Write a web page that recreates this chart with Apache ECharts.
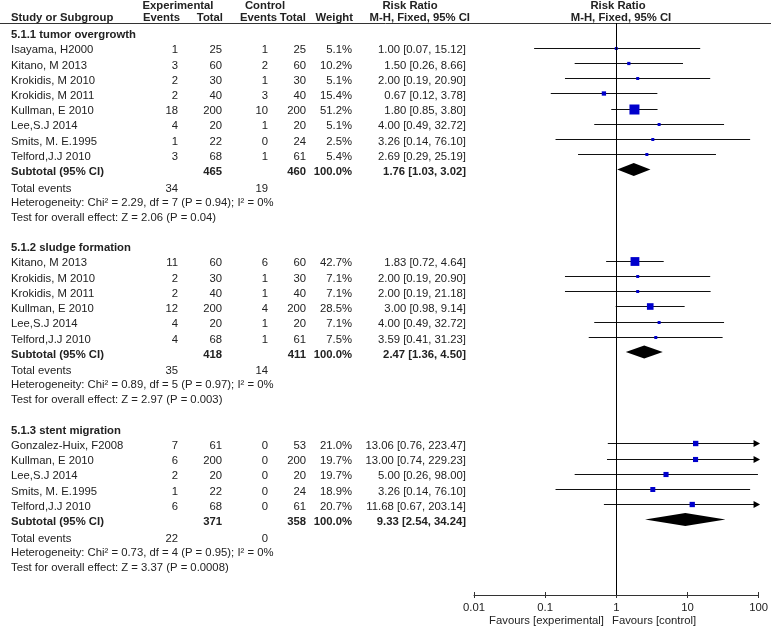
<!DOCTYPE html>
<html><head><meta charset="utf-8">
<script src="https://cdn.jsdelivr.net/npm/echarts@6.0.0/dist/echarts.min.js"></script>
<style>html,body{margin:0;padding:0;background:#fff}#c{width:771px;height:628px}</style>
</head><body><div id="c"></div>
<script>
// ---------------- DATA ----------------
const groupTitles = ['5.1.1 tumor overgrowth', '5.1.2 sludge formation', '5.1.3 stent migration'];

const studies1   = ['Isayama, H2000','Kitano, M 2013','Krokidis, M 2010','Krokidis, M 2011','Kullman, E 2010','Lee,S.J 2014','Smits, M. E.1995','Telford,J.J 2010'];
const expEvents1 = [1, 3, 2, 2, 18, 4, 1, 3];
const expTotal1  = [25, 60, 30, 40, 200, 20, 22, 68];
const ctlEvents1 = [1, 2, 1, 3, 10, 1, 0, 1];
const ctlTotal1  = [25, 60, 30, 40, 200, 20, 24, 61];
const weight1    = [5.1, 10.2, 5.1, 15.4, 51.2, 5.1, 2.5, 5.4];
const rr1        = [1.00, 1.50, 2.00, 0.67, 1.80, 4.00, 3.26, 2.69];
const lo1        = [0.07, 0.26, 0.19, 0.12, 0.85, 0.49, 0.14, 0.29];
const hi1        = [15.12, 8.66, 20.90, 3.78, 3.80, 32.72, 76.10, 25.19];

const studies2   = ['Kitano, M 2013','Krokidis, M 2010','Krokidis, M 2011','Kullman, E 2010','Lee,S.J 2014','Telford,J.J 2010'];
const expEvents2 = [11, 2, 2, 12, 4, 4];
const expTotal2  = [60, 30, 40, 200, 20, 68];
const ctlEvents2 = [6, 1, 1, 4, 1, 1];
const ctlTotal2  = [60, 30, 40, 200, 20, 61];
const weight2    = [42.7, 7.1, 7.1, 28.5, 7.1, 7.5];
const rr2        = [1.83, 2.00, 2.00, 3.00, 4.00, 3.59];
const lo2        = [0.72, 0.19, 0.19, 0.98, 0.49, 0.41];
const hi2        = [4.64, 20.90, 21.18, 9.14, 32.72, 31.23];

const studies3   = ['Gonzalez-Huix, F2008','Kullman, E 2010','Lee,S.J 2014','Smits, M. E.1995','Telford,J.J 2010'];
const expEvents3 = [7, 6, 2, 1, 6];
const expTotal3  = [61, 200, 20, 22, 68];
const ctlEvents3 = [0, 0, 0, 0, 0];
const ctlTotal3  = [53, 200, 20, 24, 61];
const weight3    = [21.0, 19.7, 19.7, 18.9, 20.7];
const rr3        = [13.06, 13.00, 5.00, 3.26, 11.68];
const lo3        = [0.76, 0.74, 0.26, 0.14, 0.67];
const hi3        = [223.47, 229.23, 98.00, 76.10, 203.14];

const subExpTotal  = [465, 418, 371];
const subCtlTotal  = [460, 411, 358];
const subWeight    = [100.0, 100.0, 100.0];
const subRR        = [1.76, 2.47, 9.33];
const subLo        = [1.03, 1.36, 2.54];
const subHi        = [3.02, 4.50, 34.24];
const totExpEvents = [34, 35, 22];
const totCtlEvents = [19, 14, 0];
const hetTexts  = ['Heterogeneity: Chi² = 2.29, df = 7 (P = 0.94); I² = 0%',
                   'Heterogeneity: Chi² = 0.89, df = 5 (P = 0.97); I² = 0%',
                   'Heterogeneity: Chi² = 0.73, df = 4 (P = 0.95); I² = 0%'];
const testTexts = ['Test for overall effect: Z = 2.06 (P = 0.04)',
                   'Test for overall effect: Z = 2.97 (P = 0.003)',
                   'Test for overall effect: Z = 3.37 (P = 0.0008)'];

const tickLabels = ['0.01', '0.1', '1', '10', '100'];
const axisMin = 0.01, axisMax = 100, nullEffect = 1;

// ---------------- LAYOUT ----------------
const W = 771, H = 628;
const rowH = 15.22, y0 = 32.5;           // pixel y of row 0 marks
const plotTop = 23, axisY = 595;
const textDy = 2.5;
const FS = '11.3px ';
const FONT = '"Liberation Sans", Arial, sans-serif';
const TXT = '#222';
const colX = {name: 11, expEv: 178, expTot: 222, ctlEv: 268, ctlTot: 306, weight: 352, ci: 466};

const groups = [
  {names: studies1, ee: expEvents1, et: expTotal1, ce: ctlEvents1, ct: ctlTotal1, w: weight1, rr: rr1, lo: lo1, hi: hi1},
  {names: studies2, ee: expEvents2, et: expTotal2, ce: ctlEvents2, ct: ctlTotal2, w: weight2, rr: rr2, lo: lo2, hi: hi2},
  {names: studies3, ee: expEvents3, et: expTotal3, ce: ctlEvents3, ct: ctlTotal3, w: weight3, rr: rr3, lo: lo3, hi: hi3}
];

const f2 = v => v.toFixed(2);
const ciText = (rr, lo, hi) => f2(rr) + ' [' + f2(lo) + ', ' + f2(hi) + ']';

const cells = [], ciData = [], diaData = [];
function cell(col, r, text, bold) { cells.push({col, r, text: String(text), bold: !!bold}); }

let r = 0;
groups.forEach((g, gi) => {
  cell('name', r, groupTitles[gi], true); r++;
  g.names.forEach((n, i) => {
    cell('name', r, n);
    cell('expEv', r, g.ee[i]); cell('expTot', r, g.et[i]);
    cell('ctlEv', r, g.ce[i]); cell('ctlTot', r, g.ct[i]);
    cell('weight', r, g.w[i].toFixed(1) + '%');
    cell('ci', r, ciText(g.rr[i], g.lo[i], g.hi[i]));
    ciData.push([g.lo[i], g.hi[i], r, g.rr[i], g.w[i]]);
    r++;
  });
  cell('name', r, 'Subtotal (95% CI)', true);
  cell('expTot', r, subExpTotal[gi], true); cell('ctlTot', r, subCtlTotal[gi], true);
  cell('weight', r, subWeight[gi].toFixed(1) + '%', true);
  cell('ci', r, ciText(subRR[gi], subLo[gi], subHi[gi]), true);
  diaData.push([subLo[gi], subHi[gi], r, subRR[gi]]);
  r++;
  cell('name', r + 0.1, 'Total events'); cell('expEv', r + 0.1, totExpEvents[gi]); cell('ctlEv', r + 0.1, totCtlEvents[gi]); r++;
  cell('name', r, hetTexts[gi]); r++;
  cell('name', r, testTexts[gi]); r++;
  r++;
});

const chart = echarts.init(document.getElementById('c'), null, {renderer: 'canvas'});

function txt(x, y, text, align, bold) {
  return {type: 'text', x: x, y: y, silent: true,
    style: {text: text, fill: TXT, font: (bold ? 'bold ' : '') + FS + FONT,
            textAlign: align, textVerticalAlign: 'middle', align: align, verticalAlign: 'middle'}};
}

const option = {
  animation: false,
  backgroundColor: '#fff',
  grid: [
    {left: 0, top: 0, width: 470, height: H},
    {left: 474, right: W - 760, top: plotTop, bottom: H - axisY}
  ],
  xAxis: [
    {gridIndex: 0, type: 'value', min: 0, max: 470, show: false},
    {gridIndex: 1, type: 'log', logBase: 10, min: axisMin, max: axisMax, position: 'bottom',
     axisLine: {show: true, onZero: false, lineStyle: {color: '#333', width: 1}},
     axisTick: {show: true, length: 3, lineStyle: {color: '#333'}},
     axisLabel: {show: true, margin: 7, color: TXT, fontSize: 11.3, fontFamily: FONT,
                 formatter: (v, i) => tickLabels[i] !== undefined ? tickLabels[i] : ''},
     splitLine: {show: false}, minorTick: {show: false}},
    {gridIndex: 1, type: 'log', logBase: 10, min: axisMin, max: axisMax, position: 'top',
     offset: -(axisY - plotTop),
     axisLine: {show: false}, axisLabel: {show: false}, splitLine: {show: false},
     axisTick: {show: true, length: 3, lineStyle: {color: '#333'}}}
  ],
  yAxis: [
    {gridIndex: 0, type: 'value', inverse: true, min: -y0 / rowH, max: (H - y0) / rowH, show: false},
    {gridIndex: 1, type: 'value', inverse: true, min: (plotTop - y0) / rowH, max: (axisY - y0) / rowH, show: false}
  ],
  graphic: [
    {type: 'line', silent: true, shape: {x1: 0, y1: plotTop + 0.5, x2: W, y2: plotTop + 0.5}, style: {stroke: '#333', lineWidth: 1}},
    txt(178, 6, 'Experimental', 'center', true),
    txt(265, 6, 'Control', 'center', true),
    txt(410, 6, 'Risk Ratio', 'center', true),
    txt(618, 6, 'Risk Ratio', 'center', true),
    txt(11, 18, 'Study or Subgroup', 'left', true),
    txt(180, 18, 'Events', 'right', true),
    txt(223, 18, 'Total', 'right', true),
    txt(277, 18, 'Events', 'right', true),
    txt(306, 18, 'Total', 'right', true),
    txt(353, 18, 'Weight', 'right', true),
    txt(470, 18, 'M-H, Fixed, 95% CI', 'right', true),
    txt(621, 18, 'M-H, Fixed, 95% CI', 'center', true),
    txt(604, 621, 'Favours [experimental]', 'right', false),
    txt(612, 621, 'Favours [control]', 'left', false)
  ],
  series: [
    {
      type: 'custom', name: 'table', xAxisIndex: 0, yAxisIndex: 0, silent: true, clip: false,
      data: cells.map(c => [colX[c.col], c.r]),
      renderItem: function (params, api) {
        const c = cells[params.dataIndex];
        const p = api.coord([api.value(0), api.value(1)]);
        const align = c.col === 'name' ? 'left' : 'right';
        return {type: 'text', x: p[0], y: p[1] + textDy,
          style: {text: c.text, fill: TXT, font: (c.bold ? 'bold ' : '') + FS + FONT,
                  textAlign: align, textVerticalAlign: 'middle', align: align, verticalAlign: 'middle'}};
      }
    },
    {
      type: 'custom', name: 'studies', xAxisIndex: 1, yAxisIndex: 1, silent: true, clip: false,
      data: ciData,
      renderItem: function (params, api) {
        const lo = api.value(0), hi = api.value(1), row = api.value(2), rr = api.value(3), w = api.value(4);
        const capped = hi > axisMax;
        const a = api.coord([lo, row]);
        const b = api.coord([capped ? axisMax : hi, row]);
        const c = api.coord([rr, row]);
        const y = Math.round(a[1]) + 0.5;
        const children = [];
        children.push({type: 'line', shape: {x1: a[0], y1: y, x2: capped ? b[0] - 4 : b[0], y2: y},
                       style: {stroke: '#111', lineWidth: 1}});
        if (capped) {
          children.push({type: 'polygon', shape: {points: [[b[0] - 5, y - 3.5], [b[0] + 1.5, y], [b[0] - 5, y + 3.5]]},
                         style: {fill: '#000'}});
        }
        const s = Math.max(3, 10 * Math.pow(w / 51.2, 0.7));
        children.push({type: 'rect', shape: {x: c[0] - s / 2, y: y - s / 2, width: s, height: s},
                       style: {fill: '#0000cc'}});
        return {type: 'group', children: children};
      },
      markLine: {
        silent: true, symbol: ['none', 'none'], label: {show: false},
        lineStyle: {color: '#000', width: 1, type: 'solid'},
        data: [{xAxis: nullEffect}]
      }
    },
    {
      type: 'custom', name: 'subtotals', xAxisIndex: 1, yAxisIndex: 1, silent: true, clip: false,
      data: diaData,
      renderItem: function (params, api) {
        const a = api.coord([api.value(0), api.value(2)]);
        const b = api.coord([api.value(1), api.value(2)]);
        const c = api.coord([api.value(3), api.value(2)]);
        const y = a[1], h = 6.5;
        return {type: 'polygon', shape: {points: [[a[0], y], [c[0], y - h], [b[0], y], [c[0], y + h]]},
                style: {fill: '#000'}};
      }
    }
  ]
};
chart.setOption(option);
</script>
</body></html>
